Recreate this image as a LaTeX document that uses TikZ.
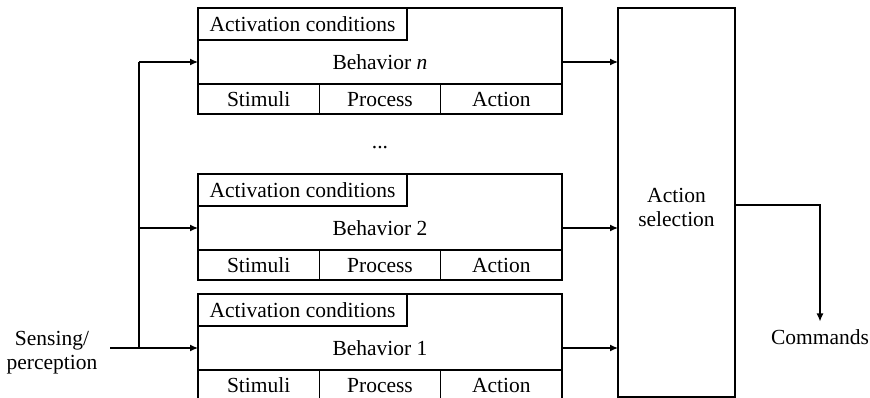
\documentclass[tikz,border=0pt]{standalone}
\usepackage{fontspec}
\setmainfont{Liberation Serif}
\usetikzlibrary{arrows.meta}

\begin{document}
\begin{tikzpicture}[x=1pt, y=-1pt, line width=1.2pt,
    every node/.style={font=\fontsize{21.5}{24}\selectfont, inner sep=0pt, outer sep=0pt},
    txt/.style={text height=15.5pt, text depth=0pt},
    frame/.style={draw, minimum width=364pt, minimum height=106pt, anchor=north west},
    actbox/.style={draw, txt, minimum width=209pt, minimum height=32pt, anchor=north west},
    namerow/.style={txt, minimum width=364pt, minimum height=44pt, anchor=north west},
    cell/.style={draw, txt, minimum width=121.33pt, minimum height=30pt, anchor=north west},
    arr/.style={-{Latex[length=8pt,width=7pt]}}]

    \useasboundingbox (0,0) rectangle (870,398);

    % Behaviour blocks
    \foreach \bid/\lab/\ytop in {n/{Behavior \textit{n}}/8, 2/{Behavior 2}/174, 1/{Behavior 1}/294}{
        \node[frame] (b\bid) at (198,\ytop) {};
        \node[actbox] (act\bid) at (b\bid.north west) {Activation conditions};
        \node[namerow] (row\bid) at (act\bid.south west) {\lab};
        \node[cell] (stim\bid) at (row\bid.south west) {Stimuli};
        \node[cell] (proc\bid) at (stim\bid.north east) {Process};
        \node[cell] (acn\bid) at (proc\bid.north east) {Action};
    }

    % Dots between the blocks
    \node (dots) at (380,148) {...};

    % Action selection
    \node[draw, minimum width=117pt, minimum height=389pt] (sel) at (676.5,202.5) {};
    \node[align=center] (seltxt) at (676.5,207) {Action\\selection};

    % Sensing input
    \node[align=center] (sense) at (52,353) {Sensing/\\perception};
    \coordinate (bus) at (139,0);
    \coordinate (sin) at (110,0);

    \draw[arr] (sin |- row1.west) -- (row1.west);
    \draw (bus |- row1.west) -- (bus |- rown.west);
    \draw[arr] (bus |- row2.west) -- (row2.west);
    \draw[arr] (bus |- rown.west) -- (rown.west);

    % Outputs to the selection
    \foreach \bid in {n,2,1}
        \draw[arr] (row\bid.east) -- (row\bid.east -| sel.west);

    % Commands
    \node (cmd) at (820,337) {Commands};
    \draw[arr] ([yshift=-2.5pt]sel.east) -| ([yshift=8pt]cmd.north);
\end{tikzpicture}
\end{document}
